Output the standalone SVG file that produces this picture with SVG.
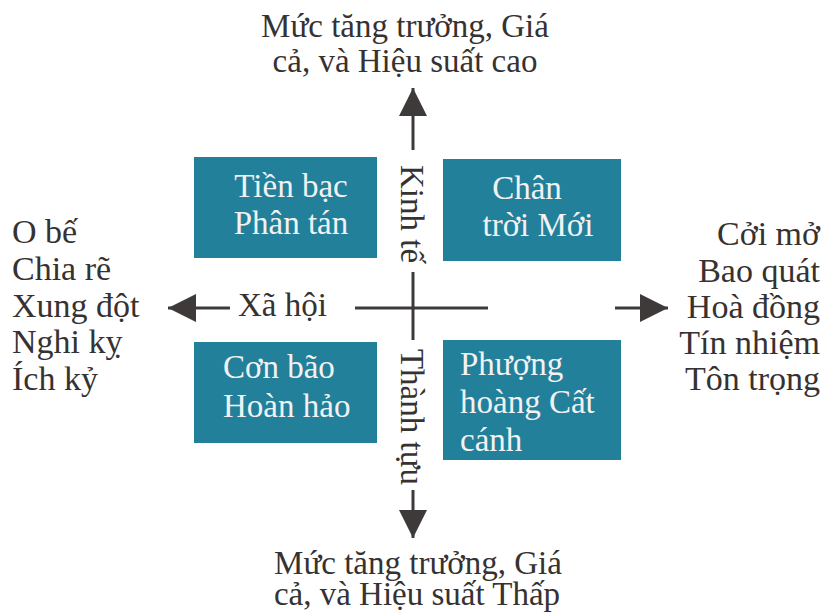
<svg xmlns="http://www.w3.org/2000/svg" width="828" height="615" viewBox="0 0 828 615">
<defs>
<style>
text{font-family:"Liberation Serif","Times New Roman",serif;fill:#363232}
.box{fill:#22809b}
.bt{fill:#f2f2f2;font-size:33px}
.lbl{font-size:34px}
.cap{font-size:33px}
.ax{stroke:#3e3a3a;stroke-width:3;fill:none}
</style>
<marker id="ah" markerUnits="userSpaceOnUse" markerWidth="30" markerHeight="28" refX="28" refY="14" orient="auto">
<path d="M0,0 L28,14 L0,28 Z" fill="#3e3a3a"/>
</marker>
</defs>
<rect width="828" height="615" fill="#ffffff"/>

<g id="connectors">
<path class="ax" d="M413,150 L413,88" marker-end="url(#ah)"/>
<path class="ax" d="M413,272 L413,340"/>
<path class="ax" d="M413,490 L413,538" marker-end="url(#ah)"/>
<path class="ax" d="M355,308 L488,308"/>
<path class="ax" d="M230,308 L168,308" marker-end="url(#ah)"/>
<path class="ax" d="M615,308 L668,308" marker-end="url(#ah)"/>
</g>

<g id="axis-labels">
<text class="bt" style="fill:#363232" transform="translate(413,214) rotate(90)" text-anchor="middle" dy="0.35em">Kinh tế</text>
<text class="bt" style="fill:#363232" transform="translate(413,417) rotate(90)" text-anchor="middle" dy="0.35em">Thành tựu</text>
<text class="bt" style="fill:#363232" x="238" y="316">Xã hội</text>
</g>

<g id="top-label">
<text class="cap" x="405" y="37" text-anchor="middle">Mức tăng trưởng, Giá</text>
<text class="cap" x="405" y="72" text-anchor="middle">cả, và Hiệu suất cao</text>
</g>
<g id="bottom-label">
<text class="cap" x="418" y="574" text-anchor="middle">Mức tăng trưởng, Giá</text>
<text class="cap" x="417" y="605" text-anchor="middle">cả, và Hiệu suất Thấp</text>
</g>

<g id="left-list">
<text class="lbl" x="12" y="243">O bế</text>
<text class="lbl" x="12" y="280">Chia rẽ</text>
<text class="lbl" x="12" y="317">Xung đột</text>
<text class="lbl" x="12" y="353">Nghi kỵ</text>
<text class="lbl" x="12" y="390">Ích kỷ</text>
</g>
<g id="right-list">
<text class="lbl" x="820" y="245" text-anchor="end">Cởi mở</text>
<text class="lbl" x="820" y="282" text-anchor="end">Bao quát</text>
<text class="lbl" x="820" y="318" text-anchor="end">Hoà đồng</text>
<text class="lbl" x="820" y="354" text-anchor="end">Tín nhiệm</text>
<text class="lbl" x="820" y="390" text-anchor="end">Tôn trọng</text>
</g>

<g id="tien-bac">
<rect class="box" x="194" y="157" width="183" height="101"/>
<text class="bt" x="291" y="197" text-anchor="middle">Tiền bạc</text>
<text class="bt" x="291" y="234" text-anchor="middle">Phân tán</text>
</g>
<g id="chan-troi">
<rect class="box" x="443" y="159" width="178" height="102"/>
<text class="bt" x="527" y="199" text-anchor="middle">Chân</text>
<text class="bt" x="538" y="236" text-anchor="middle">trời Mới</text>
</g>
<g id="con-bao">
<rect class="box" x="194" y="342" width="183" height="101"/>
<text class="bt" x="223" y="378">Cơn bão</text>
<text class="bt" x="223" y="417">Hoàn hảo</text>
</g>
<g id="phuong-hoang">
<rect class="box" x="443" y="340" width="178" height="120"/>
<text class="bt" x="460" y="375">Phượng</text>
<text class="bt" x="460" y="413">hoàng Cất</text>
<text class="bt" x="460" y="451">cánh</text>
</g>
</svg>
